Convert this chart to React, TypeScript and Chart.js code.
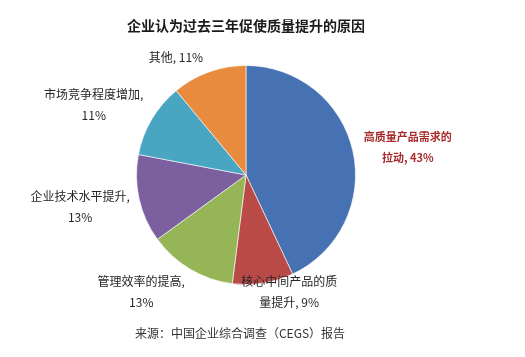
import React, { useEffect, useRef } from "react";
import { Chart, registerables } from "chart.js";

Chart.register(...registerables);

const categories = [
  "高质量产品需求的拉动",
  "核心中间产品的质量提升",
  "管理效率的提高",
  "企业技术水平提升",
  "市场竞争程度增加",
  "其他",
];
const values = [43, 9, 13, 13, 11, 11];
const colors = ["#4672B4", "#BA4A47", "#95B556", "#7B5F9F", "#48A6C2", "#E88B3F"];
// number of characters of the label kept on its first line (0 = single line)
const labelBreaks = [8, 8, 8, 9, 9, 0];
// offset of the label block centre from the outer mid-point of its slice
const labelOffsets: [number, number][] = [
  [55, -4],
  [26, 9],
  [-49, 23],
  [-59, 8],
  [-58, -14],
  [-33, -15],
];
const title = "企业认为过去三年促使质量提升的原因";
const source = "来源：中国企业综合调查（CEGS）报告";

const FONT = '"Noto Sans CJK SC", "Microsoft YaHei", sans-serif';

const textPlugin = {
  id: "pieTexts",
  afterDraw(chart: any) {
    const ctx = chart.ctx as CanvasRenderingContext2D;
    const meta = chart.getDatasetMeta(0);
    ctx.save();
    ctx.textAlign = "center";
    ctx.textBaseline = "middle";
    meta.data.forEach((arc: any, i: number) => {
      const { x, y, startAngle, endAngle, outerRadius } = arc.getProps(
        ["x", "y", "startAngle", "endAngle", "outerRadius"],
        true
      );
      const mid = (startAngle + endAngle) / 2;
      const px = x + Math.cos(mid) * outerRadius + labelOffsets[i][0];
      const py = y + Math.sin(mid) * outerRadius + labelOffsets[i][1];
      const full = `${categories[i]}, ${values[i]}%`;
      const lines =
        labelBreaks[i] > 0
          ? [full.slice(0, labelBreaks[i]), full.slice(labelBreaks[i]).trim()]
          : [full];
      const highlight = i === 0;
      ctx.font = highlight ? `bold 11px ${FONT}` : `12px ${FONT}`;
      ctx.fillStyle = highlight ? "#A82A2A" : "#262626";
      const lh = 21;
      const y0 = py - ((lines.length - 1) * lh) / 2;
      lines.forEach((ln, k) => ctx.fillText(ln, px, y0 + k * lh));
    });
    ctx.font = `bold 14px ${FONT}`;
    ctx.fillStyle = "#1a1a1a";
    ctx.fillText(title, 246, 26);
    ctx.font = `12px ${FONT}`;
    ctx.fillStyle = "#333333";
    ctx.fillText(source, 240, 333);
    ctx.restore();
  },
};

export default function App() {
  const ref = useRef<HTMLCanvasElement>(null);
  useEffect(() => {
    document.body.style.margin = "0";
    const chart = new Chart(ref.current!, {
      type: "pie",
      data: {
        labels: categories,
        datasets: [
          {
            data: values,
            backgroundColor: colors,
            borderColor: "rgba(255,255,255,0.6)",
            borderWidth: 1,
          },
        ],
      },
      options: {
        animation: false,
        responsive: false,
        layout: { padding: { left: 136, right: 169, top: 65, bottom: 72 } },
        plugins: { legend: { display: false }, tooltip: { enabled: false } },
      },
      plugins: [textPlugin],
    });
    return () => chart.destroy();
  }, []);
  return (
    <div style={{ width: 525, height: 357, background: "#fff" }}>
      <canvas ref={ref} width={525} height={357} style={{ display: "block" }} />
    </div>
  );
}
